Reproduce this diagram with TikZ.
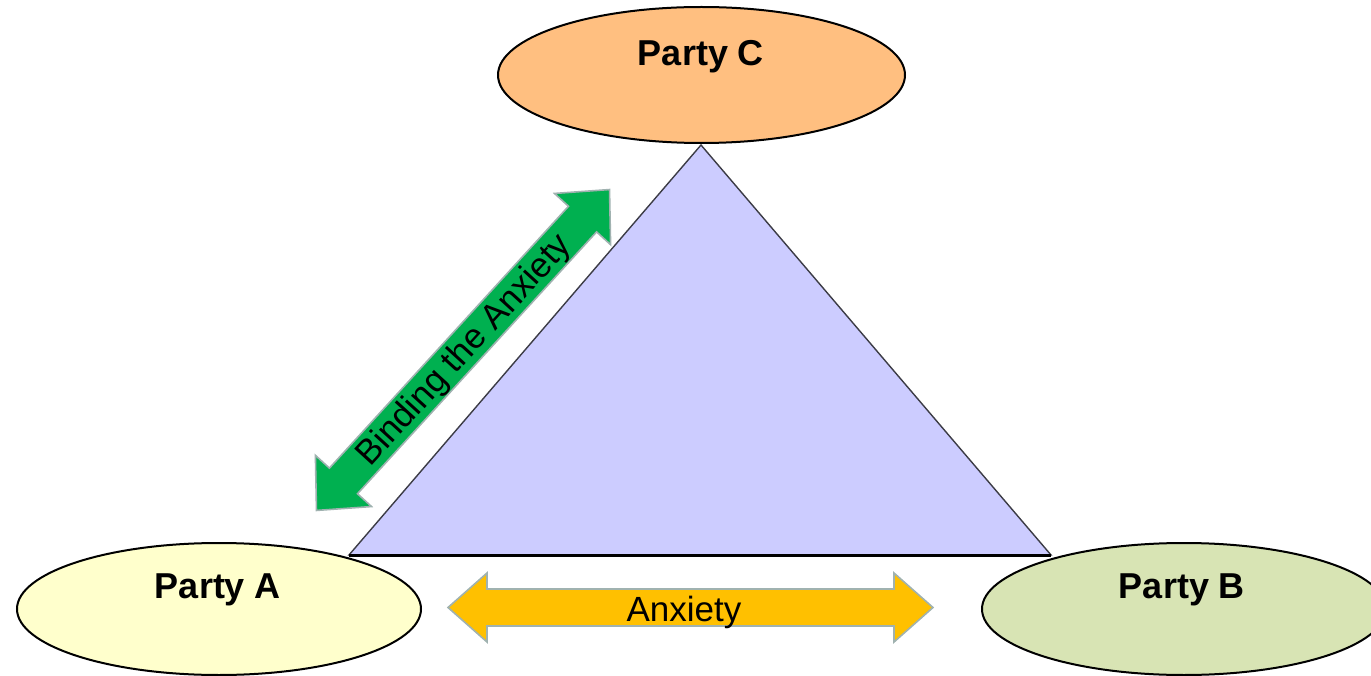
\documentclass[tikz,border=0pt]{standalone}
\usepackage{fontspec}
\setmainfont{Liberation Sans}
\usetikzlibrary{shapes.geometric}
\definecolor{partyA}{RGB}{255,255,204}
\definecolor{partyB}{RGB}{216,228,180}
\definecolor{partyC}{RGB}{255,191,128}
\definecolor{lavender}{RGB}{204,204,255}
\definecolor{anxgold}{RGB}{255,192,0}
\definecolor{bindgreen}{RGB}{0,176,80}
\definecolor{arrowrim}{RGB}{160,178,176}
\definecolor{edgegray}{RGB}{60,60,70}

% two-headed block arrow: #1 centre, #2 angle, #3 half length,
% #4 head length, #5 half shaft width, #6 half head width, #7 style
\newcommand\twowayarrow[7]{%
  \begin{scope}[shift={#1}, rotate=#2]
    \filldraw[#7] (-#3,0) -- (-#3+#4,-#6) -- (-#3+#4,-#5) -- (#3-#4,-#5)
      -- (#3-#4,-#6) -- (#3,0) -- (#3-#4,#6) -- (#3-#4,#5)
      -- (-#3+#4,#5) -- (-#3+#4,#6) -- cycle;
  \end{scope}}

\tikzset{
  party/.style={ellipse, draw=black, line width=2pt, inner sep=0pt},
  lbl/.style={font=\fontsize{36}{40}\selectfont\bfseries, text=black, inner sep=0pt},
  arrowtext/.style={font=\fontsize{35}{40}\selectfont, text=black, inner sep=0pt},
  blockarrow/.style={draw=arrowrim, line width=1.6pt, line join=miter},
}

\begin{document}
\begin{tikzpicture}[x=1pt, y=-1pt]
  \useasboundingbox (0,0) rectangle (1371,676);

  % triangle between the three parties
  \coordinate (apex) at (701,145);
  \coordinate (baseL) at (349,555);
  \coordinate (baseR) at (1051,555);
  \filldraw[fill=lavender, draw=edgegray, line width=1.4pt, line join=miter]
    (apex) -- (baseR) -- (baseL) -- cycle;
  \draw[black, line width=3pt] (baseL) -- (baseR);

  % block arrows
  \twowayarrow{(463,350)}{47.6}{217.3}{40}{19}{38}{blockarrow, fill=bindgreen}
  \twowayarrow{(690.5,607.5)}{0}{242.5}{39}{18.5}{34.5}{blockarrow, fill=anxgold}

  \node[arrowtext, rotate=47.6, anchor=center] (bind) at (465,351)
    {\vphantom{A}Binding the Anxiety};
  \node[arrowtext, anchor=base] (anx) at (684,621) {Anxiety};

  % the three parties
  \node[party, fill=partyC, minimum width=407pt, minimum height=136pt] (C) at (701.5,75) {};
  \node[party, fill=partyA, minimum width=404pt, minimum height=132pt] (A) at (219,609) {};
  \node[party, fill=partyB, minimum width=404pt, minimum height=132pt] (B) at (1184,609) {};

  \node[lbl, anchor=base] (Ctext) at (701,66) {Party C};
  \node[lbl, anchor=base] (Atext) at (218,598) {Party A};
  \node[lbl, anchor=base] (Btext) at (1182,598) {Party B};
\end{tikzpicture}
\end{document}
